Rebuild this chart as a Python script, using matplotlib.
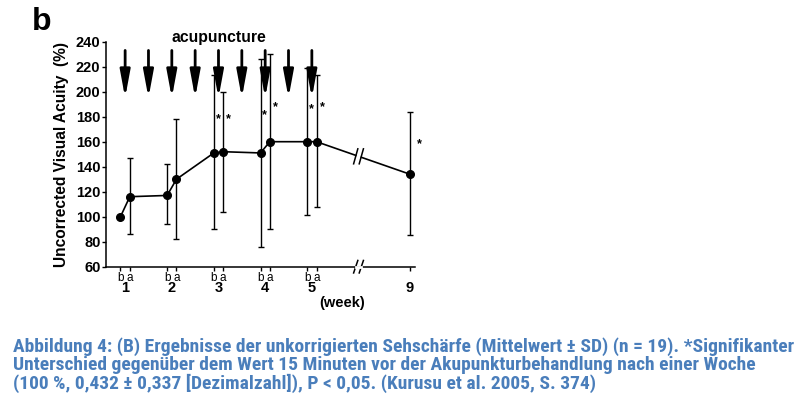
import numpy as np
import matplotlib
matplotlib.use("Agg")
from matplotlib import pyplot as plt
from matplotlib import font_manager
from matplotlib.transforms import blended_transform_factory

# values (week, before/after acupuncture)
x_pos = [0.9, 1.1, 1.9, 2.1, 2.9, 3.1, 3.9, 4.1, 4.9, 5.1, 7.1]
means = [100, 116, 117, 130, 151, 152, 151, 160, 160, 160, 134]
lower = [100, 86, 94, 82, 90, 104, 76, 90, 101, 108, 85]
upper = [100, 147, 142, 178, 213, 200, 226, 230, 219, 213, 184]
ba_labels = ['b', 'a'] * 5
week_pos = [1, 2, 3, 4, 5, 7.1]
week_labels = ['1', '2', '3', '4', '5', '9']
arrow_x = [1, 1.5, 2, 2.5, 3, 3.5, 4, 4.5, 5]
star_x = [3.0, 3.22, 3.98, 4.22, 4.98, 5.22, 7.3]
star_y = [178, 178, 181, 188, 186, 188, 158]
break_x = 6.0

names = {f.name for f in font_manager.fontManager.ttflist}
chart_font = 'Liberation Sans' if 'Liberation Sans' in names else 'DejaVu Sans'
cap_font = chart_font
for cand in ['Liberation Sans Narrow', 'Roboto Condensed', 'DejaVu Sans Condensed']:
    if cand in names:
        cap_font = cand
        break
plt.rcParams['font.family'] = [chart_font, 'DejaVu Sans']

fig = plt.figure(figsize=(8.07, 4.04), dpi=100)
ax = fig.add_axes([106/807, 1 - 266.7/404, 309/807, 225/404])

means = np.array(means)
yerr = [means - np.array(lower), np.array(upper) - means]

# line with a break between week 5 and week 9
i5 = 9
frac = (break_x - x_pos[i5]) / (x_pos[-1] - x_pos[i5])
y_break = means[i5] + frac * (means[-1] - means[i5])
slope = (means[-1] - means[i5]) / (x_pos[-1] - x_pos[i5])
gap = 0.06
ax.plot(x_pos[:i5 + 1] + [break_x - gap], list(means[:i5 + 1]) + [y_break - slope*gap],
        color='black', lw=1.2)
ax.plot([break_x + gap, x_pos[-1]], [y_break + slope*gap, means[-1]], color='black', lw=1.2)
for dx in (-gap, gap):
    ax.plot([break_x + dx - 0.045, break_x + dx + 0.045], [y_break - 6, y_break + 6],
            color='black', lw=1.1)

ax.errorbar(x_pos, means, yerr=yerr, fmt='o', color='black', ms=5.5,
            elinewidth=1, capsize=2.5, capthick=1)

for xa in arrow_x:
    ax.annotate('', xy=(xa, 195), xytext=(xa, 233),
                arrowprops=dict(arrowstyle='-|>,head_length=0.65,head_width=0.12',
                                mutation_scale=25, lw=2.0, color='black',
                                shrinkA=0, shrinkB=0))

for sx, sy in zip(star_x, star_y):
    ax.text(sx, sy, '*', ha='center', va='center', fontsize=9, fontweight='bold')

ax.text(3.0, 243, 'acupuncture', ha='center', va='center', fontsize=11.3,
        fontweight='bold', clip_on=False)

ax.set_xlim(0.59, 7.21)
ax.set_ylim(60, 240)
ax.set_yticks(np.arange(60, 241, 20))
ax.spines['top'].set_visible(False)
ax.spines['right'].set_visible(False)
ax.spines['left'].set_linewidth(1.1)
ax.spines['bottom'].set_linewidth(1.1)
ax.tick_params(axis='y', labelsize=10.5, length=3, width=1, pad=1)
for t in ax.get_yticklabels():
    t.set_fontweight('bold')

ax.set_xticks(x_pos)
ax.set_xticklabels(ba_labels + [''])
ax.tick_params(axis='x', labelsize=8.5, length=3, width=1, pad=0.5)

trans = blended_transform_factory(ax.transData, ax.transAxes)
for wp, wl in zip(week_pos, week_labels):
    ax.text(wp, -0.095, wl, transform=trans, ha='center', va='center',
            fontsize=10.5, fontweight='bold', clip_on=False)
ax.text(5.65, -0.16, '(week)', transform=trans, ha='center', va='center',
        fontsize=10.5, fontweight='bold', clip_on=False)

# axis break on the x axis
for dx in (-gap, gap):
    ax.plot([break_x + dx - 0.045, break_x + dx + 0.045], [55, 65], color='black',
            lw=1.1, clip_on=False)
ax.plot([break_x - gap + 0.01, break_x + gap - 0.01], [60, 60], color='white',
        lw=2, clip_on=False, zorder=5)

ylab = ax.set_ylabel('Uncorrected Visual Acuity  (%)', fontsize=11, fontweight='bold',
                     labelpad=5)

fig.text(32/807, 1 - 22/404, 'b', fontsize=23, fontweight='bold', va='center')

caption = ['Abbildung 4: (B) Ergebnisse der unkorrigierten Sehschärfe (Mittelwert ± SD) (n = 19). *Signifikanter',
           'Unterschied gegenüber dem Wert 15 Minuten vor der Akupunkturbehandlung nach einer Woche',
           '(100 %, 0,432 ± 0,337 [Dezimalzahl]), P < 0,05. (Kurusu et al. 2005, S. 374)']
cap_texts = []
for k, line in enumerate(caption):
    cap_texts.append(fig.text(13/807, 1 - (347 + 18*k)/404, line, fontsize=12,
                              fontweight='bold', color='#4a7ebb', va='center',
                              family=[cap_font, 'DejaVu Sans']))

# fit caption width and y label length to the reference
fig.canvas.draw()
r = fig.canvas.get_renderer()
w = cap_texts[0].get_window_extent(r).width
size = min(12 * 787 / w, 14)
for t in cap_texts:
    t.set_fontsize(size)
h = ylab.get_window_extent(r).height
ylab.set_fontsize(min(11 * 226 / h, 13))

fig.savefig('out.png', dpi=100)
